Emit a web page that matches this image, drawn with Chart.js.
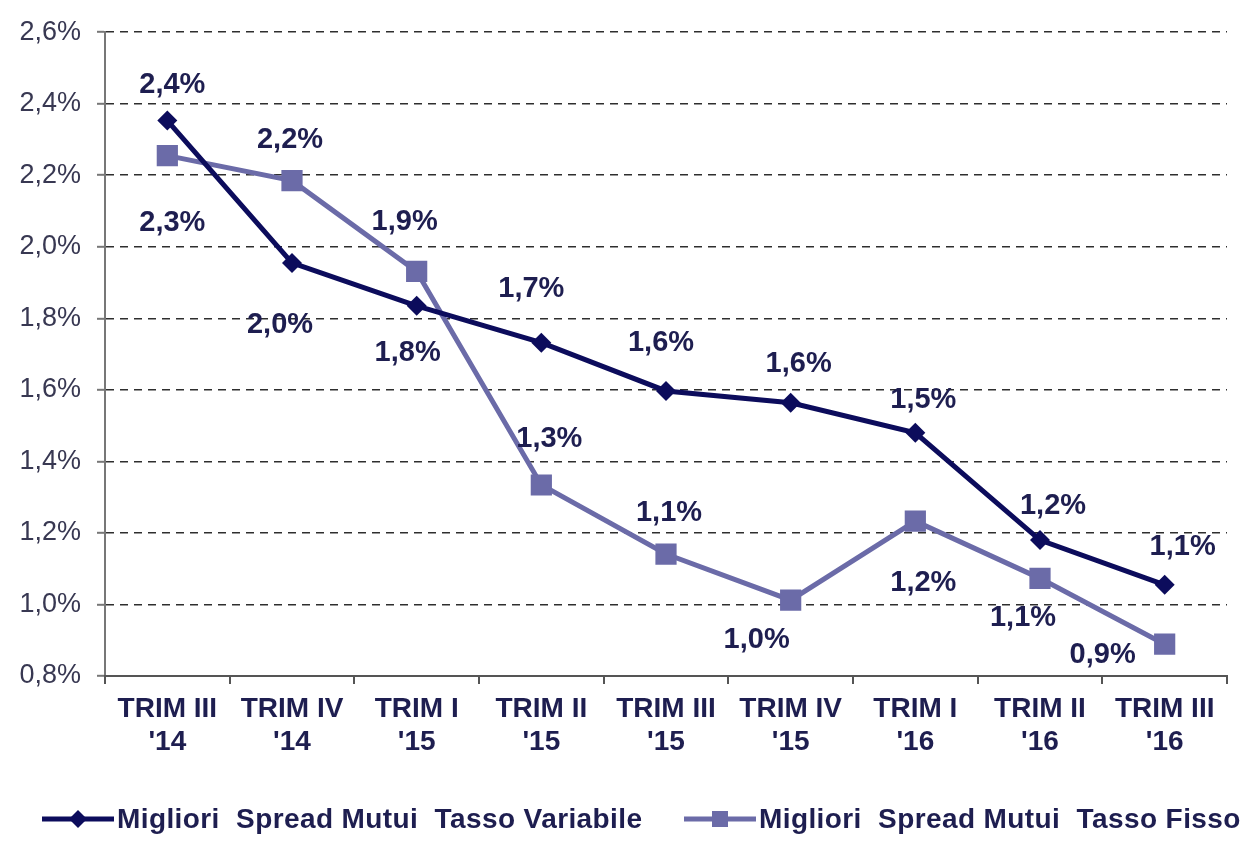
<!DOCTYPE html>
<html><head><meta charset="utf-8">
<script src="https://cdn.jsdelivr.net/npm/chart.js@4.4.0/dist/chart.umd.min.js"></script>
<style>html,body{margin:0;padding:0;background:#fff;}#wrap{width:1242px;height:841px;position:relative;}</style>
</head><body><div id="wrap"><canvas id="c" width="1242" height="841"></canvas></div>
<script>
const categories = [["TRIM III","'14"],["TRIM IV","'14"],["TRIM I","'15"],["TRIM II","'15"],["TRIM III","'15"],["TRIM IV","'15"],["TRIM I","'16"],["TRIM II","'16"],["TRIM III","'16"]];
const variabile = [2.353, 1.955, 1.835, 1.732, 1.597, 1.564, 1.48, 1.18, 1.055];
const fisso = [2.255, 2.185, 1.931, 1.334, 1.141, 1.012, 1.233, 1.073, 0.889];
const seriesNames = ["Migliori  Spread Mutui  Tasso Variabile", "Migliori  Spread Mutui  Tasso Fisso"];
const yTicks = [0.8, 1.0, 1.2, 1.4, 1.6, 1.8, 2.0, 2.2, 2.4, 2.6];
// label offsets (style, px relative to point)
const varLabelOffsets = [[5,-36],[-12,62],[-9,47],[-10,-54],[-5,-48],[8,-39],[8,-33],[13,-34],[18,-38]];
const fisLabelOffsets = [[5,67],[-2,-41],[-12,-49],[8,-46],[3,-41],[-34,40],[8,62],[-17,40],[-62,11]];

const C_VAR = '#0c0c5c', C_FIS = '#6b6ba8', C_TXT = '#1e1e50';
const FONT = '"Liberation Sans", Arial, sans-serif';
const fmt = v => v.toFixed(1).replace('.', ',') + '%';

const labelPlugin = {
  id: 'labels',
  afterDatasetsDraw(chart) {
    const ctx = chart.ctx;
    ctx.save();
    ctx.font = 'bold 29px ' + FONT;
    ctx.fillStyle = C_TXT;
    ctx.textAlign = 'center';
    ctx.textBaseline = 'middle';
    const offs = [varLabelOffsets, fisLabelOffsets];
    chart.data.datasets.forEach((ds, di) => {
      const meta = chart.getDatasetMeta(di);
      meta.data.forEach((pt, i) => {
        ctx.fillText(fmt(ds.data[i]), pt.x + offs[di][i][0], pt.y + offs[di][i][1]);
      });
    });
    ctx.restore();
  },
  afterDraw(chart) {
    const ctx = chart.ctx;
    ctx.save();
    const y = 819;
    const items = [[42, C_VAR, 'rectRot'], [684, C_FIS, 'rect']];
    items.forEach((it, k) => {
      const x0 = it[0];
      ctx.strokeStyle = it[1]; ctx.lineWidth = 5;
      ctx.beginPath(); ctx.moveTo(x0, y); ctx.lineTo(x0 + 72, y); ctx.stroke();
      ctx.fillStyle = it[1];
      const cx = x0 + 36;
      if (it[2] === 'rectRot') {
        ctx.beginPath(); ctx.moveTo(cx, y-9); ctx.lineTo(cx+9, y); ctx.lineTo(cx, y+9); ctx.lineTo(cx-9, y); ctx.closePath(); ctx.fill();
      } else {
        ctx.fillRect(cx-8, y-8, 16, 16);
      }
      ctx.fillStyle = C_TXT;
      ctx.font = 'bold 28px ' + FONT;
      try { ctx.letterSpacing = '0.4px'; } catch (e) {}
      ctx.textAlign = 'left'; ctx.textBaseline = 'middle';
      ctx.fillText(seriesNames[k], x0 + 75, y + 1);
    });
    ctx.restore();
  }
};

new Chart(document.getElementById('c'), {
  type: 'line',
  data: {
    labels: categories,
    datasets: [
      { label: seriesNames[0], data: variabile, borderColor: C_VAR, backgroundColor: C_VAR, borderWidth: 5,
        pointStyle: 'rectRot', pointRadius: 10, pointBorderWidth: 0, tension: 0 },
      { label: seriesNames[1], data: fisso, borderColor: C_FIS, backgroundColor: C_FIS, borderWidth: 5,
        pointStyle: 'rect', pointRadius: 15, pointBorderWidth: 0, tension: 0 }
    ]
  },
  options: {
    responsive: false, animation: false,
    layout: { padding: { top: 30, right: 14, bottom: 0, left: 0 } },
    plugins: { legend: { display: false }, tooltip: { enabled: false } },
    scales: {
      y: {
        min: 0.8, max: 2.6,
        afterFit: s => { s.width = 105; },
        afterBuildTicks: s => { s.ticks = yTicks.map(v => ({ value: v })); },
        ticks: { callback: v => fmt(v), font: { size: 27, family: FONT }, color: '#383852', padding: 16 },
        grid: { color: '#2e2e2e', lineWidth: 1.6, tickLength: 8, tickColor: '#777', tickBorderDash: [], tickWidth: 2, drawOnChartArea: true },
        border: { display: true, color: '#777', width: 2, dash: [8, 6] }
      },
      x: {
        offset: true,
        afterFit: s => { s.height = 165; },
        ticks: { font: { size: 28, weight: 'bold', family: FONT, lineHeight: 1.2 }, color: C_TXT, padding: 8, maxRotation: 0, autoSkip: false },
        grid: { offset: true, drawOnChartArea: false, tickLength: 8, color: '#555', lineWidth: 2 },
        border: { display: true, color: '#555', width: 2 }
      }
    }
  },
  plugins: [labelPlugin]
});
</script></body></html>
